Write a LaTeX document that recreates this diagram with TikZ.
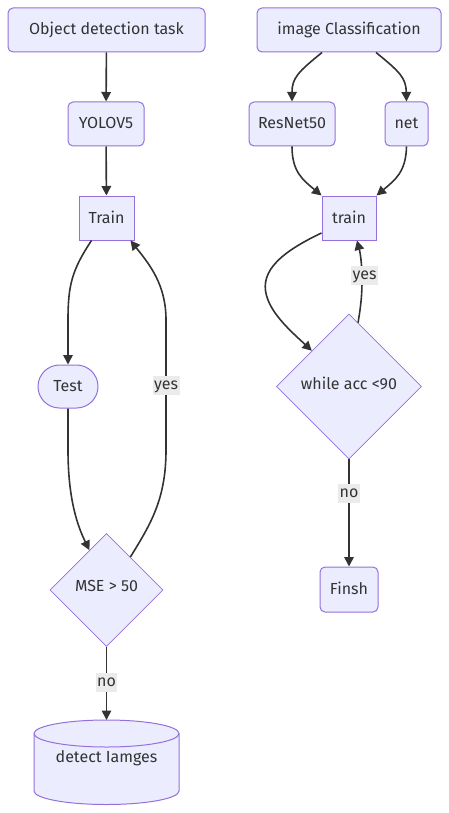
\documentclass[tikz,border=0pt]{standalone}
\usepackage{fontspec}
\setmainfont{Fira Sans}
\usetikzlibrary{shapes.geometric,arrows.meta,calc}
\definecolor{fillc}{HTML}{ECECFF}
\definecolor{strokec}{HTML}{9370DB}
\definecolor{linec}{HTML}{333333}
\definecolor{txtc}{HTML}{333333}
\definecolor{lblbg}{HTML}{EBEBEB}
\tikzset{
  every node/.style={text=txtc, font=\fontsize{16}{19}\selectfont},
  rbox/.style={draw=strokec, fill=fillc, line width=1pt, rounded corners=5pt, minimum height=44pt, inner sep=0pt},
  sbox/.style={draw=strokec, fill=fillc, line width=1pt, minimum height=44pt, inner sep=0pt},
  stad/.style={draw=strokec, fill=fillc, line width=1pt, rounded corners=21.5pt, minimum height=43pt, inner sep=0pt},
  dec/.style={diamond, aspect=1, draw=strokec, fill=fillc, line width=0.8pt, inner sep=0pt},
  conn/.style={draw=linec, line width=1.6pt, -{Triangle[length=9.5pt,width=9.5pt]}},
  lbl/.style={fill=lblbg, inner sep=1.5pt, text height=12pt, text depth=4pt}
}
\begin{document}
\begin{tikzpicture}[x=1pt,y=-1pt]
\useasboundingbox (0,0) rectangle (449,813);
% left column
\node[rbox, minimum width=197pt] (odt) at (106.5,30) {\raisebox{1.5pt}{Object detection task}};
\node[rbox, minimum width=76pt] (yolo) at (106,124) {\raisebox{1.5pt}{YOLOV5}};
\node[sbox, minimum width=55pt] (Trn) at (106.5,218) {\raisebox{1.5pt}{Train}};
\node[stad, minimum width=60pt] (tst) at (68,386.5) {\raisebox{1.5pt}{Test}};
\node[dec, minimum width=113pt, minimum height=113pt] (mse) at (106.5,590) {};
\node at (106.5,586) {MSE > 50};
% cylinder
\node[minimum width=145pt, minimum height=85pt, inner sep=0pt] (det) at (106.5,762) {};
\path[draw=strokec, fill=fillc, line width=1pt]
  (34,733.5) -- (34,791) arc[start angle=180, end angle=0, x radius=72.5, y radius=13.5]
  -- (179,733.5) arc[start angle=0, end angle=-180, x radius=72.5, y radius=13.5] -- cycle;
\draw[strokec, line width=1pt] (34,733.5) arc[start angle=180, end angle=0, x radius=72.5, y radius=13.5];
\node at (106.5,758) {detect Iamges};
% right column
\node[rbox, minimum width=184pt] (ic) at (349,30) {\raisebox{1.5pt}{image Classification}};
\node[rbox, minimum width=86pt] (res) at (292,124) {\raisebox{1.5pt}{ResNet50}};
\node[rbox, minimum width=43pt] (net) at (406.5,124) {\raisebox{1.5pt}{net}};
\node[sbox, minimum width=54pt] (trn) at (349,218) {\raisebox{1.5pt}{train}};
\node[dec, minimum width=145pt, minimum height=145pt] (wh) at (349,386.5) {};
\node at (349,383) {while acc <90};
\node[rbox, minimum width=58pt, minimum height=45pt] (fin) at (349,589.5) {\raisebox{1.5pt}{Finsh}};
% edges left
\draw[conn] (odt) -- (yolo);
\draw[conn] (yolo) -- (Trn);
\draw[conn] ([xshift=13pt]Trn.south west) .. controls (72,270) and (68,285) .. (68,320) -- (tst.north);
\draw[conn] (tst.south) -- (68,450) .. controls (68,500) and (78,527) .. ($(mse.north)!0.3!(mse.west)$);
\draw[conn] ($(mse.north)!0.42!(mse.east)$) .. controls (150,525) and (166,500) .. (166,450) -- (166,320)
  .. controls (166,285) and (150,265) .. ([xshift=-4pt]Trn.south east);
\node[lbl] (ly1) at (166,385) {yes};
\draw[conn] (mse.south) -- (106.5,720);
\node[lbl] (ln1) at (106.5,682) {no};
% edges right
\draw[conn] ([xshift=-27pt]ic.south) .. controls (298,72) and (292,78) .. (res.north);
\draw[conn] ([xshift=27pt]ic.south) .. controls (400,72) and (406,78) .. (net.north);
\draw[conn] (res.south) .. controls (292,172) and (303,180) .. (trn.north west);
\draw[conn] (net.south) .. controls (406,172) and (395,180) .. (trn.north east);
\draw[conn] ([yshift=-15pt]trn.west) .. controls (275,255) and (258,275) .. (268,300)
  .. controls (275,318) and (295,335) .. ($(wh.north)!0.51!(wh.west)$);
\draw[conn] ($(wh.north)!0.124!(wh.east)$) .. controls (361,305) and (362,295) .. (362,280)
  .. controls (362,262) and (360,252) .. ([xshift=8pt]trn.south);
\node[lbl] (ly2) at (364.5,275) {yes};
\draw[conn] (wh.south) -- (fin.north);
\node[lbl] (ln2) at (349,493) {no};
\end{tikzpicture}
\end{document}
